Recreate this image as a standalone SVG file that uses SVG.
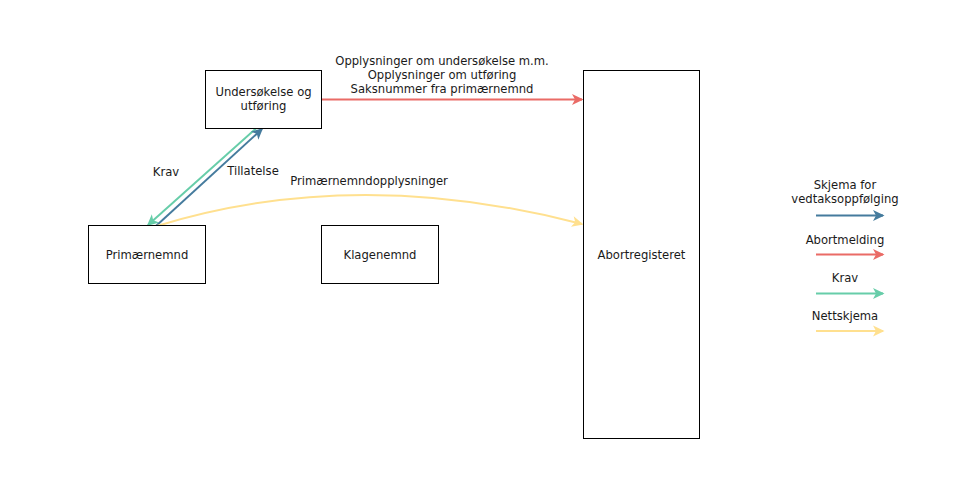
<svg xmlns="http://www.w3.org/2000/svg" width="970" height="485" viewBox="0 0 970 485">
<style>
.box{fill:#ffffff;stroke:#000000;stroke-width:1}
text{font-family:"DejaVu Sans",Verdana,sans-serif;font-size:11.6px;fill:#1a1a1a;text-anchor:middle}
.c{fill:none;stroke-width:2}
</style>
<defs>
<marker id="mBlue" markerUnits="userSpaceOnUse" markerWidth="13" markerHeight="12" refX="10" refY="5.5" orient="auto" overflow="visible"><path d="M0,0 L11.5,5.5 L0,11 L3,5.5 z" fill="#457B9D"/></marker>
<marker id="mRed" markerUnits="userSpaceOnUse" markerWidth="13" markerHeight="12" refX="10" refY="5.5" orient="auto" overflow="visible"><path d="M0,0 L11.5,5.5 L0,11 L3,5.5 z" fill="#EA6B66"/></marker>
<marker id="mTeal" markerUnits="userSpaceOnUse" markerWidth="13" markerHeight="12" refX="10" refY="5.5" orient="auto" overflow="visible"><path d="M0,0 L11.5,5.5 L0,11 L3,5.5 z" fill="#67CDA9"/></marker>
<marker id="mYellow" markerUnits="userSpaceOnUse" markerWidth="13" markerHeight="12" refX="10" refY="5.5" orient="auto" overflow="visible"><path d="M0,0 L11.5,5.5 L0,11 L3,5.5 z" fill="#FFE08F"/></marker>
</defs>
<rect width="970" height="485" fill="#ffffff"/>
<g id="connectors">
<line class="c" x1="322" y1="99.5" x2="582" y2="99.5" stroke="#EA6B66" marker-end="url(#mRed)"/>
<line class="c" x1="256.5" y1="128" x2="148" y2="225" stroke="#67CDA9" marker-end="url(#mTeal)"/>
<line class="c" x1="156" y1="226" x2="262" y2="129" stroke="#457B9D" marker-end="url(#mBlue)"/>
<path class="c" d="M157,226 Q355,165 582,224" stroke="#FFE08F" marker-end="url(#mYellow)"/>
<text x="442" y="65">Opplysninger om undersøkelse m.m.</text>
<text x="442" y="79">Opplysninger om utføring</text>
<text x="442" y="93">Saksnummer fra primærnemnd</text>
<text x="166" y="176">Krav</text>
<text x="253" y="175">Tillatelse</text>
<text x="369" y="185">Primærnemndopplysninger</text>
</g>
<g id="undersokelse">
<rect class="box" x="205.5" y="70.5" width="116" height="58"/>
<text x="263.5" y="96">Undersøkelse og</text>
<text x="263.5" y="110">utføring</text>
</g>
<g id="primaernemnd">
<rect class="box" x="88.5" y="225.5" width="117" height="58"/>
<text x="147" y="258.5">Primærnemnd</text>
</g>
<g id="klagenemnd">
<rect class="box" x="321.5" y="225.5" width="117" height="58"/>
<text x="380" y="258.5">Klagenemnd</text>
</g>
<g id="abortregisteret">
<rect class="box" x="583.5" y="70.5" width="116" height="368"/>
<text x="641.5" y="258.5">Abortregisteret</text>
</g>
<g id="legend">
<text x="845" y="189">Skjema for</text>
<text x="845" y="203">vedtaksoppfølging</text>
<line class="c" x1="816" y1="215.5" x2="883" y2="215.5" stroke="#457B9D" marker-end="url(#mBlue)"/>
<text x="845" y="244">Abortmelding</text>
<line class="c" x1="816" y1="254.5" x2="883" y2="254.5" stroke="#EA6B66" marker-end="url(#mRed)"/>
<text x="845" y="282">Krav</text>
<line class="c" x1="816" y1="293.5" x2="883" y2="293.5" stroke="#67CDA9" marker-end="url(#mTeal)"/>
<text x="845" y="320">Nettskjema</text>
<line class="c" x1="816" y1="331" x2="883" y2="331" stroke="#FFE08F" marker-end="url(#mYellow)"/>
</g>
</svg>
